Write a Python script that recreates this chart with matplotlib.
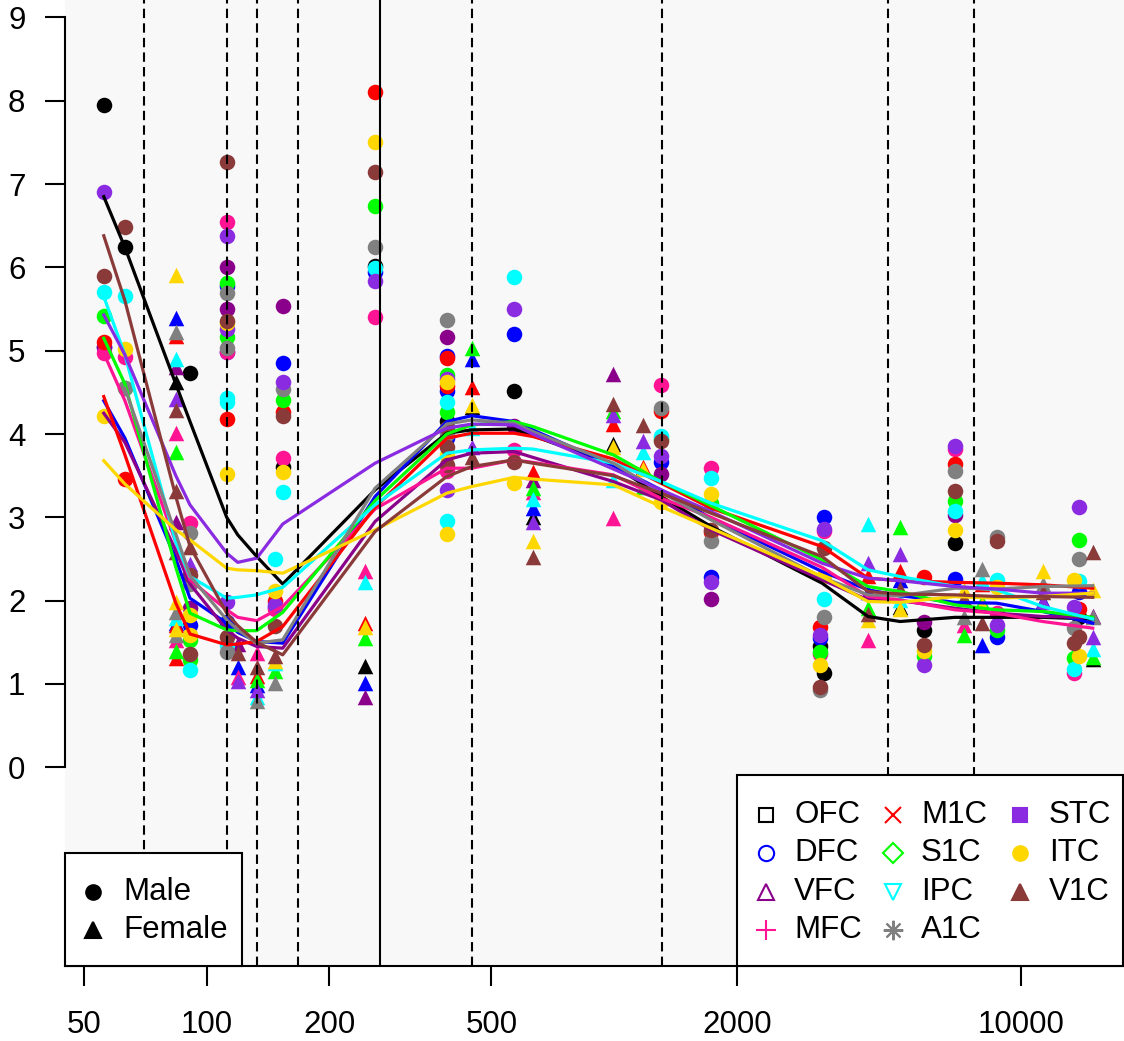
import numpy as np
import matplotlib
matplotlib.use("Agg")
import matplotlib.pyplot as plt
from matplotlib.patches import Rectangle
from matplotlib.lines import Line2D

plt.rcParams['font.family'] = ['Liberation Sans', 'DejaVu Sans']

n = np.nan

# donors: age (days post conception) and sex
ages = [55.9, 63.0, 84.0, 84.0, 84.0, 91.0, 91.0, 91.0, 91.0, 112.0, 112.0, 112.0,
        119.2, 132.7, 147.2, 147.2, 153.7, 244.7, 259.0, 388.4, 388.4, 388.4, 447.4,
        568, 632, 996, 1176, 1304, 1730, 3203, 3282, 4201, 5033, 5766, 6870, 7240,
        7986, 8695, 11276, 13460, 13843, 14961]
sex = ['M', 'M', 'F', 'F', 'F', 'M', 'M', 'M', 'F', 'M', 'M', 'M',
       'F', 'F', 'F', 'M', 'M', 'F', 'M', 'M', 'M', 'M', 'F',
       'M', 'F', 'F', 'F', 'M', 'M', 'M', 'M', 'F', 'F', 'M', 'M', 'F',
       'F', 'M', 'F', 'M', 'M', 'F']

regions = ['OFC', 'DFC', 'VFC', 'MFC', 'M1C', 'S1C', 'IPC', 'A1C', 'STC', 'ITC', 'V1C']
colors = ['black', '#0000FF', '#8B008B', '#FF1493', '#FF0000', '#00FF00', '#00FFFF',
          '#808080', '#8A2BE2', '#FFD700', '#8B3A3A']

OFC = [7.95, 6.25, 4.62, n, n, 4.73, n, n, n, n, n, n, n, n, n, n, 3.60, 1.22, 6.02, 4.16, n, n,
       4.33, 4.52, 3.01, 3.88, n, n, n, 1.46, 1.13, n, 1.93, 1.65, 2.69, n, n, n, n, n, 1.80, 1.30]
DFC = [5.05, n, 5.39, 1.73, n, n, 1.71, n, n, 5.78, 4.98, 1.75, 1.20, 0.99, n, 1.92, 4.85, 1.01,
       5.95, 4.94, 4.52, 3.95, 4.90, 5.20, 3.11, n, n, 3.66, 2.28, 1.55, 3.00, 2.10, 2.25, n, 2.26,
       n, 1.47, 1.57, 2.00, n, 2.10, n]
VFC = [5.05, n, 4.80, 2.95, n, n, 1.91, n, n, 6.00, 5.50, n, 1.48, n, n, n, 5.54, 0.84, n, 5.17,
       n, n, n, 4.10, 3.45, 4.72, n, 3.52, 2.02, n, n, n, n, 1.74, 3.03, n, n, n, n, n, n, 1.82]
MFC = [4.97, 4.92, 4.01, 1.53, n, 2.93, n, n, n, 6.54, 4.98, n, 1.08, 1.37, n, 1.90, 3.71, 2.36,
       5.41, n, 3.56, n, n, 3.81, 3.30, 2.99, n, 4.59, 3.59, 1.36, 2.84, 1.53, n, n, 3.82, 1.71,
       n, 1.85, n, 1.13, n, n]
M1C = [5.10, 3.46, 5.18, 1.71, 1.31, n, n, n, n, 4.18, n, n, n, 1.10, n, 2.00, 4.27, 1.73, 8.10,
       4.91, 4.58, n, 4.57, n, 3.55, 4.12, 3.60, 4.28, 2.82, 1.69, n, 2.30, 2.36, 2.28, 3.64, n,
       2.20, n, n, n, 1.90, n]
S1C = [5.42, 4.55, 3.78, 1.40, n, n, 1.53, 1.29, n, 5.81, 5.16, n, n, 1.05, 1.15, n, 4.41, 1.55,
       6.74, 4.71, 4.26, n, 5.03, n, 3.35, 4.28, 3.37, 3.94, 3.17, 1.38, n, 1.91, 2.89, 1.33, 3.20,
       1.59, 1.99, 1.65, n, 1.31, 2.73, 1.32]
IPC = [5.71, 5.66, 4.90, 1.79, n, n, 1.17, n, n, 4.43, 4.38, 1.47, n, 0.84, 1.25, 2.50, 3.31, 2.23,
       5.99, 4.39, 2.96, n, 4.07, 5.88, 3.22, 3.45, 3.78, 3.98, 3.47, n, 2.02, 2.92, 2.01, n, 3.08,
       n, 2.25, 2.25, n, 1.18, 2.24, 1.42]
A1C = [n, 4.55, 5.23, 1.86, 1.59, 2.81, 2.20, n, n, 5.69, 5.03, 1.38, n, 0.80, 1.01, n, 4.54, n,
       6.24, 5.37, 4.00, n, n, n, n, n, n, 4.31, 2.72, 0.93, 1.80, n, n, n, 3.56, 1.81, 2.38, 2.76,
       2.20, 1.67, 2.50, 1.80]
STC = [6.90, n, 4.42, n, n, n, n, n, 2.44, 6.38, 5.26, 1.99, 1.04, 0.93, n, 1.95, 4.63, n, 5.84,
       4.66, 3.33, n, 3.84, 5.50, 2.95, 4.23, 3.92, 3.74, 2.23, 1.59, 2.86, 2.45, 2.56, 1.23, 3.86,
       n, n, 1.71, 1.98, 1.93, 3.12, 1.57]
ITC = [4.22, 5.02, 5.91, 1.98, 1.66, n, 1.83, 1.59, n, 5.33, 3.52, n, n, n, 1.27, 2.12, 3.54, 1.68,
       7.50, 4.62, 3.75, 2.80, 4.35, 3.41, 2.72, 3.85, 3.58, 3.19, 3.28, 1.23, 2.30, 1.77, 1.90,
       1.39, 2.85, 2.13, 1.95, 2.17, 2.36, 2.25, 1.33, 2.13]
V1C = [5.90, 6.48, 4.29, 3.32, 2.58, 2.31, 1.36, n, 2.64, 7.26, 5.36, 1.57, 1.37, 1.20, 1.34, 1.70,
       4.22, n, 7.15, 4.07, 3.85, 3.63, 3.73, 3.66, 2.53, 4.36, 4.11, 3.92, 2.85, 0.96, 2.63, 1.84,
       2.14, 1.47, 3.32, 2.03, 1.73, 2.72, 2.10, 1.49, 1.57, 2.58]

# smoothed curves per region
fit_ages = [55.9, 63.0, 84.0, 91.0, 112.0, 119.2, 132.7, 153.7, 259.0, 388.4, 447.4, 568, 632,
            996, 1304, 1730, 3240, 4201, 5033, 6870, 8695, 11276, 14961]
fit_OFC = [6.85, 6.24, 4.60, 4.15, 3.00, 2.79, 2.53, 2.20, 3.33, 4.01, 4.05, 4.06, 3.98, 3.63,
           3.25, 2.89, 2.21, 1.81, 1.75, 1.80, 1.80, 1.80, 1.78]
fit_DFC = [4.40, 3.95, 2.50, 2.03, 1.73, 1.62, 1.51, 1.49, 3.25, 4.15, 4.22, 4.15, 4.05, 3.62,
           3.33, 2.99, 2.35, 2.13, 2.06, 1.98, 1.97, 1.87, 1.73]
fit_VFC = [4.25, 3.90, 2.60, 2.20, 1.65, 1.55, 1.45, 1.43, 2.95, 3.69, 3.77, 3.79, 3.72, 3.43,
           3.21, 2.85, 2.25, 2.01, 2.00, 1.91, 1.85, 1.81, 1.80]
fit_MFC = [4.97, 4.40, 2.70, 2.25, 1.89, 1.80, 1.76, 1.93, 3.10, 3.59, 3.59, 3.69, 3.66, 3.51,
           3.23, 3.00, 2.40, 2.05, 2.01, 1.89, 1.85, 1.75, 1.67]
fit_M1C = [4.45, 3.75, 1.97, 1.60, 1.47, 1.48, 1.51, 1.69, 3.12, 3.95, 4.01, 4.01, 3.97, 3.70,
           3.41, 3.11, 2.65, 2.27, 2.24, 2.22, 2.21, 2.19, 2.15]
fit_S1C = [5.15, 4.60, 2.40, 1.85, 1.65, 1.64, 1.64, 1.86, 3.20, 4.00, 4.11, 4.15, 4.09, 3.75,
           3.43, 3.14, 2.49, 2.17, 2.11, 1.95, 1.89, 1.87, 1.80]
fit_IPC = [5.65, 4.95, 2.70, 2.29, 2.03, 2.04, 2.07, 2.16, 3.15, 3.77, 3.81, 3.83, 3.82, 3.65,
           3.43, 3.17, 2.72, 2.37, 2.29, 2.17, 2.13, 1.93, 1.78]
fit_A1C = [n, 4.55, 2.80, 2.30, 1.77, 1.65, 1.49, 1.53, 3.35, 4.12, 4.17, 4.13, 4.03, 3.65,
           3.30, 2.97, 2.28, 2.07, 2.06, 2.15, 2.14, 2.17, 2.18]
fit_STC = [5.43, 4.95, 3.50, 3.15, 2.57, 2.46, 2.51, 2.92, 3.65, 4.07, 4.12, 4.11, 4.00, 3.58,
           3.33, 3.07, 2.45, 2.27, 2.24, 2.17, 2.14, 2.09, 2.09]
fit_ITC = [3.68, 3.40, 2.85, 2.73, 2.39, 2.37, 2.36, 2.33, 2.85, 3.29, 3.37, 3.48, 3.46, 3.39,
           3.13, 2.87, 2.29, 1.99, 1.98, 2.05, 2.03, 2.05, 2.09]
fit_V1C = [6.38, 5.60, 3.25, 2.65, 1.85, 1.70, 1.50, 1.35, 2.83, 3.49, 3.61, 3.69, 3.65, 3.50,
           3.29, 3.05, 2.53, 2.11, 2.08, 2.07, 2.05, 2.05, 2.04]

period_breaks = [70, 112, 133, 168, 448, 1308, 4690, 7630]
birth = 266
xticks = [50, 100, 200, 500, 2000, 10000]

values = [OFC, DFC, VFC, MFC, M1C, S1C, IPC, A1C, STC, ITC, V1C]
fits = [fit_OFC, fit_DFC, fit_VFC, fit_MFC, fit_M1C, fit_S1C, fit_IPC, fit_A1C, fit_STC,
        fit_ITC, fit_V1C]

W, H = 1124, 1041
fig = plt.figure(figsize=(W / 100, H / 100), dpi=100)
ax = fig.add_axes([65 / W, 75 / H, 1059 / W, 966 / H])
ax.set_facecolor('#F8F8F8')
ax.set_xscale('log')
ax.set_xlim(44.9, 17850)
ax.set_ylim(-2.385, 9.21)

ages_a = np.array(ages)
male = np.array([s == 'M' for s in sex])
for vals, col in zip(values, colors):
    v = np.array(vals, dtype=float)
    ax.scatter(ages_a[male], v[male], s=125, marker='o', color=col, linewidths=0, zorder=2)
    ax.scatter(ages_a[~male], v[~male], s=125, marker='^', color=col, linewidths=0, zorder=2)

for f, col in zip(fits, colors):
    ax.plot(fit_ages, f, color=col, lw=2.3, zorder=3)

for b in period_breaks:
    ax.axvline(b, color='black', lw=1.5, ls=(0, (4.5, 2.5)), zorder=4)
ax.axvline(birth, color='black', lw=1.5, zorder=4)

for s in ['top', 'right']:
    ax.spines[s].set_visible(False)
ax.spines['left'].set_bounds(0, 9)
ax.spines['left'].set_linewidth(1.5)
ax.spines['bottom'].set_linewidth(1.5)
ax.spines['bottom'].set_zorder(6)

ax.set_xticks(xticks)
ax.set_xticklabels([str(t) for t in xticks])
ax.xaxis.set_minor_locator(matplotlib.ticker.NullLocator())
ax.set_yticks(range(10))
ax.tick_params(axis='both', direction='out', length=14.5, width=1.5, labelsize=22.5)
ax.tick_params(axis='x', pad=17)
ax.tick_params(axis='y', pad=14)


def fx(x):
    return x / W


def fy(y):
    return 1 - y / H


def box(x0, y0, x1, y1):
    fig.add_artist(Rectangle((fx(x0), fy(y1)), fx(x1) - fx(x0), fy(y0) - fy(y1),
                             transform=fig.transFigure, facecolor='white',
                             edgecolor='black', lw=1.5, zorder=10))


def entry(mx, tx, y, label, col, marker, filled, ms):
    fig.add_artist(Line2D([fx(mx)], [fy(y)], transform=fig.transFigure, marker=marker,
                          markersize=ms, color=col, markeredgewidth=1.5,
                          markerfacecolor=col if filled else 'none', ls='none', zorder=11))
    fig.text(fx(tx), fy(y), label, fontsize=22.5, va='center', ha='left', zorder=11)


# sex legend
box(64.5, 852.7, 242.3, 966)
entry(93, 123, 892, 'Male', 'black', 'o', True, 10.5)
entry(93, 123, 930, 'Female', 'black', '^', True, 11.5)

# region legend
box(737, 775, 1123, 966)
leg_markers = ['s', 'o', '^', '+', 'x', 'D', 'v', (8, 2, 0), 's', 'o', '^']
leg_filled = [False, False, False, False, False, False, False, False, True, True, True]
leg_sizes = [10, 11, 12, 15, 12, 10, 12, 14, 10, 10.5, 12]
rows = [815, 853, 892, 930]
cols = [(766, 794), (892.5, 921), (1019.5, 1049)]
for i, (lab, col) in enumerate(zip(regions, colors)):
    c, r = divmod(i, 4)
    entry(cols[c][0], cols[c][1], rows[r], lab, col, leg_markers[i], leg_filled[i], leg_sizes[i])

fig.savefig('out.png', dpi=100)
